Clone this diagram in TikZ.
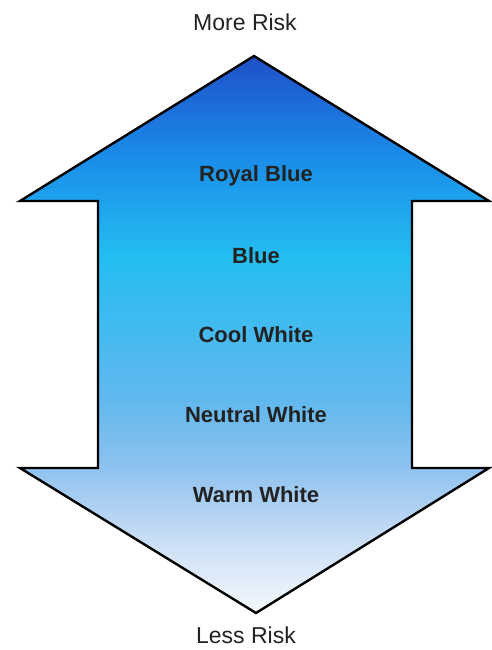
\documentclass[tikz,border=0pt]{standalone}
\usepackage{fontspec}
\setmainfont{Liberation Sans}
\usetikzlibrary{positioning}

\definecolor{riskA}{HTML}{F5F8FD}
\definecolor{riskB}{HTML}{C6DCF5}
\definecolor{riskC}{HTML}{8FC2EF}
\definecolor{riskD}{HTML}{62B8EE}
\definecolor{riskE}{HTML}{24BDF1}
\definecolor{riskF}{HTML}{1A8CE9}
\definecolor{riskG}{HTML}{1F4FC8}
\definecolor{labeltext}{HTML}{222222}

\pgfdeclareverticalshading{riskshade}{100bp}{%
  color(0bp)=(riskA); color(25bp)=(riskA); color(32bp)=(riskB);
  color(38bp)=(riskC); color(44bp)=(riskD); color(57bp)=(riskE);
  color(66bp)=(riskF); color(75bp)=(riskG); color(100bp)=(riskG)}

\begin{document}
\begin{tikzpicture}[
  x=1pt, y=-1pt,
  level/.style={font=\fontsize{22}{26}\selectfont\bfseries, text=labeltext},
  pole/.style={font=\fontsize{23}{27}\selectfont, text=labeltext, inner sep=1pt},
  body/.style={draw=black, line width=2.4pt, line join=miter, shading=riskshade}
]
\useasboundingbox (0,0) rectangle (491,650);

% double arrow
\path[body] (254,56) -- (489,201) -- (412,201) -- (412,468) -- (489,468)
  -- (256,613) -- (20,468) -- (98,468) -- (98,201) -- (20,201) -- cycle;

\node[pole] (more) at (245,22) {More Risk};
\node[level] (royal) at (256,176) {Royal Blue};
\node[level] (blue) at (256,256) {Blue};
\node[level] (cool) at (256,335) {Cool White};
\node[level] (neutral) at (256,415) {Neutral White};
\node[level] (warm) at (256,495) {Warm White};
\node[pole] (less) at (246,635) {Less Risk};
\end{tikzpicture}
\end{document}
